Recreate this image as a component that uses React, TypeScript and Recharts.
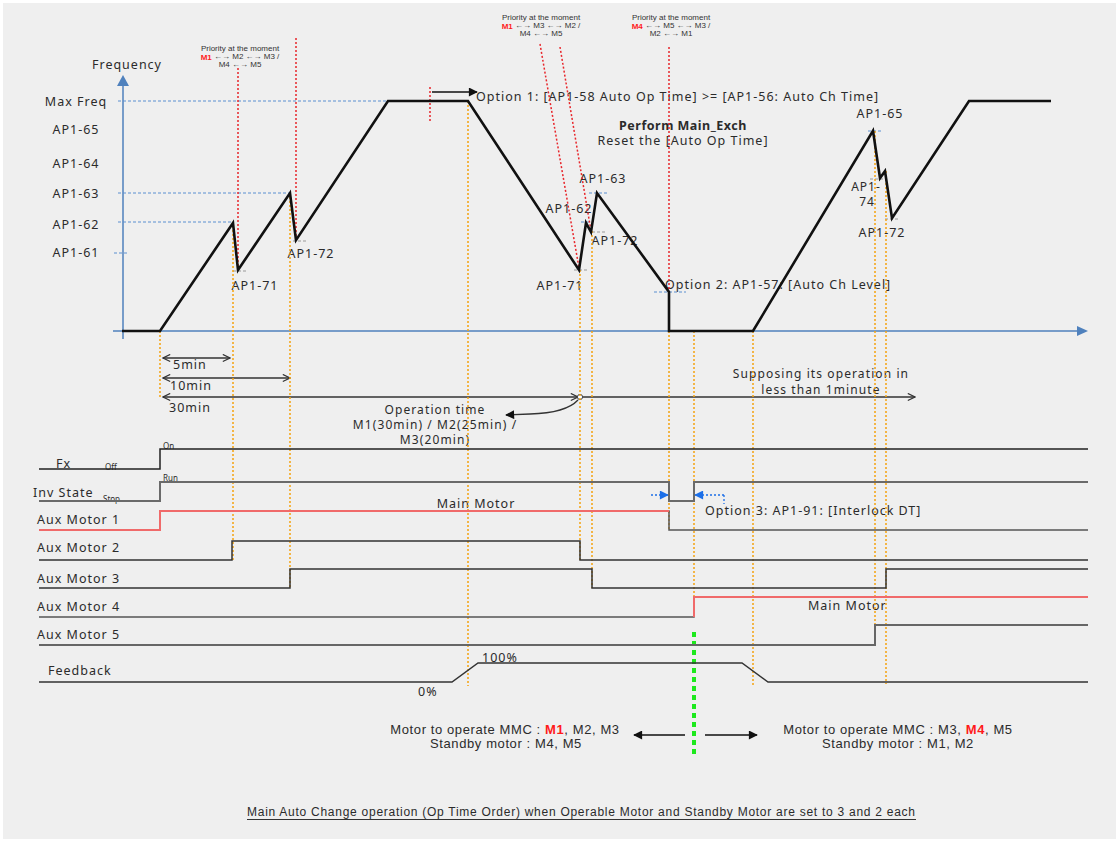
import React from 'react';
import { ComposedChart, Line, XAxis, YAxis, ReferenceLine, Customized } from 'recharts';

const W = 1119;
const H = 842;

// frequency trace: time / % of Max Freq
const freqTimes = [122, 160, 233, 238, 290, 296, 388, 468, 579, 586, 591, 597, 669, 669, 753, 873, 880, 885, 892, 969, 1051];
const freqValues = [0, 0, 47, 26.5, 60, 39.5, 100, 100, 26.5, 47, 43, 60, 17, 0, 0, 87, 66.5, 69.5, 49, 100, 100];

const levelNames = ['Max Freq', 'AP1-65', 'AP1-64', 'AP1-63', 'AP1-62', 'AP1-61'];
const levelValues = [100, 87.5, 73, 60, 46.5, 34];

// digital signals: edge times and the state after each edge
const fxTimes = [39, 160, 1088];
const fxStates = [0, 1, 1];
const invTimes = [39, 160, 669, 694, 1088];
const invStates = [0, 1, 0, 1, 1];
const aux1Times = [39, 160, 669, 1088];
const aux1States = [0, 1, 0, 0];
const aux2Times = [39, 232, 580, 1088];
const aux2States = [0, 1, 0, 0];
const aux3Times = [39, 290, 592, 886, 1088];
const aux3States = [0, 1, 0, 1, 1];
const aux4Times = [39, 694, 1088];
const aux4States = [0, 1, 1];
const aux5Times = [39, 875, 1088];
const aux5States = [0, 1, 1];
const fbTimes = [39, 452, 478, 742, 768, 1088];
const fbValues = [0, 0, 100, 100, 0, 0];

// when each motor is the main motor (red)
const aux1Main = [39, 669];
const aux4Main = [694, 1088];

// lane layout (pixel rows)
const lanes: Record<string, { low: number; high: number }> = {
  fx: { low: 469, high: 449 },
  inv: { low: 501, high: 482 },
  aux1: { low: 530, high: 511 },
  aux2: { low: 560, high: 541 },
  aux3: { low: 588, high: 569 },
  aux4: { low: 617, high: 597 },
  aux5: { low: 645, high: 625 },
  fb: { low: 682, high: 663 },
};

const F0 = 331; // y of 0 Hz
const FPX = 2.3; // px per %
const fy = (v: number) => F0 - v * FPX;

const FONT = '"Noto Sans", sans-serif';
const ARIAL = '"Liberation Sans", Arial, sans-serif';
const ORANGE = '#f5a20f';
const RED = '#e8262b';
const BLUE = '#5b8fd0';

function steps(times: number[], states: number[]) {
  const pts: { t: number; v: number }[] = [];
  times.forEach((t, i) => {
    if (i > 0 && states[i] !== states[i - 1]) pts.push({ t, v: states[i - 1] });
    pts.push({ t, v: states[i] });
  });
  return pts;
}

function toLane(pts: { t: number; v: number }[], lane: string, scale = 1) {
  const l = lanes[lane];
  return pts.map((p) => ({ t: p.t, y: l.low - (p.v / scale) * (l.low - l.high) }));
}

function slice(pts: { t: number; v: number }[], range: number[]) {
  const out = pts.filter((p) => p.t >= range[0] && p.t <= range[1]);
  const n = out.length;
  if (n > 1 && out[n - 1].t === range[1] && out[n - 2].t === range[1]) out.pop();
  return out;
}

const freqData = freqTimes.map((t, i) => ({ t, f: freqValues[i] }));
const fxData = toLane(steps(fxTimes, fxStates), 'fx');
const invData = toLane(steps(invTimes, invStates), 'inv');
const aux1Pts = steps(aux1Times, aux1States);
const aux1Data = toLane(aux1Pts, 'aux1');
const aux1Red = toLane(slice(aux1Pts, aux1Main), 'aux1');
const aux2Data = toLane(steps(aux2Times, aux2States), 'aux2');
const aux3Data = toLane(steps(aux3Times, aux3States), 'aux3');
const aux4Pts = steps(aux4Times, aux4States);
const aux4Data = toLane(aux4Pts, 'aux4');
const aux4Red = toLane(slice(aux4Pts, aux4Main), 'aux4');
const aux5Data = toLane(steps(aux5Times, aux5States), 'aux5');
const fbData = toLane(fbTimes.map((t, i) => ({ t, v: fbValues[i] })), 'fb', 100);

// guide lines: [x, yTop, yBottom]
const orangeGuides = [
  [160, 331, 398], [233, 222, 560], [290, 193, 588], [468, 101, 686], [580, 270, 560],
  [592, 231, 588], [669, 331, 530], [694, 331, 617], [753, 331, 686], [875, 131, 625], [886, 171, 684],
];
// red priority lines: [x1, y1, x2, y2]
const redGuides = [
  [238, 68, 238, 270], [296, 38, 296, 240], [540, 44, 579, 268], [560, 47, 591, 231],
  [669, 47, 669, 292], [430, 87, 430, 121],
];
// short level markers: [x1, x2, y, colour]
const levelMarks: [number, number, number, string][] = [
  [118, 388, 101, BLUE], [118, 290, 193, BLUE], [118, 233, 222, BLUE], [114, 129, 253, BLUE],
  [233, 248, 271, '#999'], [293, 306, 241, '#999'], [574, 588, 270, '#999'], [592, 605, 232, '#999'],
  [870, 885, 179, '#999'], [885, 900, 219, '#999'],
  [581, 591, 222, BLUE], [589, 607, 193, BLUE], [654, 686, 292, BLUE], [868, 883, 131, BLUE],
];

function T(props: any) {
  const { x, y, children, anchor = 'start', size = 12.5, weight, font = FONT, ls = 1, fill = '#2b2b2b', ...rest } = props;
  return (
    <text x={x} y={y} textAnchor={anchor} dominantBaseline="central" fontSize={size} fontFamily={font}
      fontWeight={weight} letterSpacing={ls} fill={fill} {...rest}>
      {children}
    </text>
  );
}

function Priority({ x, y, main, rest, last }: { x: number; y: number; main: string; rest: string; last: string }) {
  const p = { anchor: 'middle', size: 8, font: ARIAL, ls: 0, fill: '#333' };
  return (
    <g>
      <T x={x} y={y} {...p}>Priority at the moment</T>
      <T x={x} y={y + 8.5} {...p}>
        <tspan fill="#ff1a1a" fontWeight="bold">{main}</tspan>
        {rest}
      </T>
      <T x={x} y={y + 16.5} {...p}>{last}</T>
    </g>
  );
}

function Annotations() {
  const dim = { stroke: '#333', strokeWidth: 1.3, fill: 'none' };
  return (
    <g>
      <defs>
        <marker id="open" viewBox="0 0 10 10" refX="9" refY="5" markerWidth="9" markerHeight="9"
          markerUnits="userSpaceOnUse" orient="auto-start-reverse">
          <path d="M1,1 L9,5 L1,9" fill="none" stroke="#333" strokeWidth="1.3" />
        </marker>
        <marker id="solid" viewBox="0 0 10 10" refX="9" refY="5" markerWidth="11" markerHeight="9"
          markerUnits="userSpaceOnUse" orient="auto-start-reverse">
          <path d="M0,0 L10,5 L0,10 z" fill="#111" />
        </marker>
        <marker id="blue" viewBox="0 0 10 10" refX="9" refY="5" markerWidth="11" markerHeight="9"
          markerUnits="userSpaceOnUse" orient="auto-start-reverse">
          <path d="M0,0 L10,5 L0,10 z" fill="#1c6fe8" />
        </marker>
      </defs>

      {/* axes */}
      <line x1={123} y1={339} x2={123} y2={84} stroke="#4f81bd" strokeWidth={1.5} />
      <polygon points="117,86 129,86 123,75" fill="#4f81bd" />
      <line x1={113} y1={331} x2={1078} y2={331} stroke="#4f81bd" strokeWidth={1.5} />
      <polygon points="1077,326 1077,336 1088,331" fill="#4f81bd" />

      <T x={127} y={64} anchor="middle">Frequency</T>
      {levelNames.map((n, i) => (
        <T key={n} x={76} y={i === 1 ? 129 : i === 2 ? 163 : fy(levelValues[i])} anchor="middle">{n}</T>
      ))}

      <T x={255} y={285} anchor="middle">AP1-71</T>
      <T x={311} y={253} anchor="middle">AP1-72</T>
      <T x={603} y={178} anchor="middle">AP1-63</T>
      <T x={569} y={208} anchor="middle">AP1-62</T>
      <T x={615} y={240} anchor="middle">AP1-72</T>
      <T x={560} y={285} anchor="middle">AP1-71</T>
      <T x={665} y={284}>Option 2: AP1-57: [Auto Ch Level]</T>
      <T x={880} y={113} anchor="middle">AP1-65</T>
      <T x={866} y={186} anchor="middle" size={12}>AP1-</T>
      <T x={867} y={201} anchor="middle" size={12}>74</T>
      <T x={882} y={232} anchor="middle">AP1-72</T>

      <line x1={432} y1={92} x2={477} y2={92} stroke="#111" strokeWidth={1.3} markerEnd="url(#solid)" />
      <T x={476} y={96}>Option 1: [AP1-58 Auto Op Time] &gt;= [AP1-56: Auto Ch Time]</T>
      <T x={683} y={125} anchor="middle" weight="bold" ls={0.5}>Perform Main_Exch</T>
      <T x={683} y={140} anchor="middle">Reset the [Auto Op Time]</T>

      <Priority x={240} y={48} main="M1" rest=" ←→ M2 ←→ M3 /" last="M4 ←→ M5" />
      <Priority x={541} y={17} main="M1" rest=" ←→ M3 ←→ M2 /" last="M4 ←→ M5" />
      <Priority x={671} y={17} main="M4" rest=" ←→ M5 ←→ M3 /" last="M2 ←→ M1" />

      {/* time spans */}
      <line x1={163} y1={358} x2={230} y2={358} {...dim} markerStart="url(#open)" markerEnd="url(#open)" />
      <line x1={163} y1={378} x2={290} y2={378} {...dim} markerStart="url(#open)" markerEnd="url(#open)" />
      <line x1={163} y1={397} x2={578} y2={397} {...dim} markerStart="url(#open)" markerEnd="url(#open)" />
      <line x1={582} y1={397} x2={915} y2={397} {...dim} markerEnd="url(#open)" />
      <circle cx={580} cy={397} r={2.6} fill="#fff" stroke="#444" strokeWidth={1} />
      <path d="M 578 400 Q 566 413 530 414 L 506 415" {...dim} markerEnd="url(#solid)" />
      <T x={173} y={364}>5min</T>
      <T x={170} y={385}>10min</T>
      <T x={169} y={407}>30min</T>
      <T x={435} y={409.5} anchor="middle" size={12} ls={1.1}>Operation time</T>
      <T x={435} y={424.5} anchor="middle" size={12} ls={1.1}>M1(30min) / M2(25min) /</T>
      <T x={435} y={439.5} anchor="middle" size={12} ls={1.1}>M3(20min)</T>
      <T x={821} y={373.5} anchor="middle" size={12} ls={1.1}>Supposing its operation in</T>
      <T x={821} y={389} anchor="middle" size={12} ls={1.1}>less than 1minute</T>

      {/* lane labels */}
      <T x={56} y={463}>Fx</T>
      <T x={105} y={466} size={8} ls={0}>Off</T>
      <T x={163} y={445} size={8} ls={0}>On</T>
      <T x={33} y={492}>Inv State</T>
      <T x={103} y={498} size={8} ls={0}>Stop</T>
      <T x={163} y={477} size={8} ls={0}>Run</T>
      <T x={37} y={519}>Aux Motor 1</T>
      <T x={37} y={547}>Aux Motor 2</T>
      <T x={37} y={578}>Aux Motor 3</T>
      <T x={37} y={606}>Aux Motor 4</T>
      <T x={37} y={634}>Aux Motor 5</T>
      <T x={48} y={670}>Feedback</T>
      <T x={476} y={503} anchor="middle">Main Motor</T>
      <T x={808} y={605}>Main Motor</T>
      <T x={482} y={657}>100%</T>
      <T x={418} y={691}>0%</T>

      {/* interlock */}
      <line x1={651} y1={495} x2={668} y2={495} stroke="#1c6fe8" strokeWidth={1.3} strokeDasharray="2 2" markerEnd="url(#blue)" />
      <line x1={724} y1={495} x2={695} y2={495} stroke="#1c6fe8" strokeWidth={1.3} strokeDasharray="2 2" markerEnd="url(#blue)" />
      <line x1={724} y1={495} x2={724} y2={504} stroke="#1c6fe8" strokeWidth={1.3} strokeDasharray="2 2" />
      <T x={705} y={510}>Option 3: AP1-91: [Interlock DT]</T>

      {/* result */}
      <line x1={685} y1={735} x2={634} y2={735} stroke="#111" strokeWidth={1.3} markerEnd="url(#solid)" />
      <line x1={705} y1={735} x2={757} y2={735} stroke="#111" strokeWidth={1.3} markerEnd="url(#solid)" />
      <T x={505} y={729} anchor="middle" font={ARIAL} size={13} ls={0.6}>
        Motor to operate MMC : <tspan fill="#ff1a1a" fontWeight="bold">M1</tspan>, M2, M3
      </T>
      <T x={506} y={743} anchor="middle" font={ARIAL} size={13} ls={0.6}>Standby motor : M4, M5</T>
      <T x={898} y={729} anchor="middle" font={ARIAL} size={13} ls={0.6}>
        Motor to operate MMC : M3, <tspan fill="#ff1a1a" fontWeight="bold">M4</tspan>, M5
      </T>
      <T x={898} y={743} anchor="middle" font={ARIAL} size={13} ls={0.6}>Standby motor : M1, M2</T>

      <T x={581} y={812} anchor="middle" font={ARIAL} size={12} ls={0} textLength={668} lengthAdjust="spacing">
        Main Auto Change operation (Op Time Order) when Operable Motor and Standby Motor are set to 3 and 2 each
      </T>
      <line x1={247} y1={819.5} x2={916} y2={819.5} stroke="#333" strokeWidth={1} />
    </g>
  );
}

export default function App() {
  const fDomain = [-(H - F0) / FPX, F0 / FPX];
  const series: [any[], string, string, number, string][] = [
    [freqData, 'f', '#111', 2.6, 'f'],
    [fxData, 'y', '#222', 1.5, 'px'],
    [invData, 'y', '#6a6a6a', 2, 'px'],
    [aux1Data, 'y', '#555', 1.5, 'px'],
    [aux1Red, 'y', '#f06a6a', 2, 'px'],
    [aux2Data, 'y', '#333', 1.5, 'px'],
    [aux3Data, 'y', '#333', 1.5, 'px'],
    [aux4Data, 'y', '#555', 1.5, 'px'],
    [aux4Red, 'y', '#f06a6a', 2, 'px'],
    [aux5Data, 'y', '#666', 2, 'px'],
    [fbData, 'y', '#333', 1.5, 'px'],
  ];
  return (
    <div style={{ position: 'fixed', left: 0, top: 0, width: W, height: H, background: '#efefef', boxShadow: 'inset 0 0 0 3px #fff' }}>
      <ComposedChart width={W} height={H} margin={{ top: 0, right: 0, bottom: 0, left: 0 }}>
        <XAxis type="number" dataKey="t" domain={[0, W]} allowDataOverflow hide />
        <YAxis yAxisId="px" type="number" domain={[0, H]} reversed allowDataOverflow hide />
        <YAxis yAxisId="f" type="number" domain={fDomain} allowDataOverflow hide />

        {levelMarks.map(([x1, x2, y, c], i) => (
          <ReferenceLine key={'lm' + i} yAxisId="px" segment={[{ x: x1, y }, { x: x2, y }]} stroke={c}
            strokeWidth={1} strokeDasharray="3 2" ifOverflow="visible" />
        ))}
        {orangeGuides.map(([x, y1, y2], i) => (
          <ReferenceLine key={'og' + i} yAxisId="px" segment={[{ x, y: y1 }, { x, y: y2 }]} stroke={ORANGE}
            strokeWidth={1.5} strokeDasharray="2 2" ifOverflow="visible" />
        ))}
        {redGuides.map(([x1, y1, x2, y2], i) => (
          <ReferenceLine key={'rg' + i} yAxisId="px" segment={[{ x: x1, y: y1 }, { x: x2, y: y2 }]} stroke={RED}
            strokeWidth={1.5} strokeDasharray="2 2" ifOverflow="visible" />
        ))}
        <ReferenceLine yAxisId="px" segment={[{ x: 694, y: 632 }, { x: 694, y: 757 }]} stroke="#1de91d"
          strokeWidth={4} strokeDasharray="5 4" ifOverflow="visible" />

        {series.map(([data, key, color, width, id], i) => (
          <Line key={'s' + i} data={data} dataKey={key} yAxisId={id} type="linear" stroke={color}
            strokeWidth={width} dot={false} activeDot={false} isAnimationActive={false} />
        ))}

        <Customized component={<Annotations />} />
      </ComposedChart>
    </div>
  );
}
